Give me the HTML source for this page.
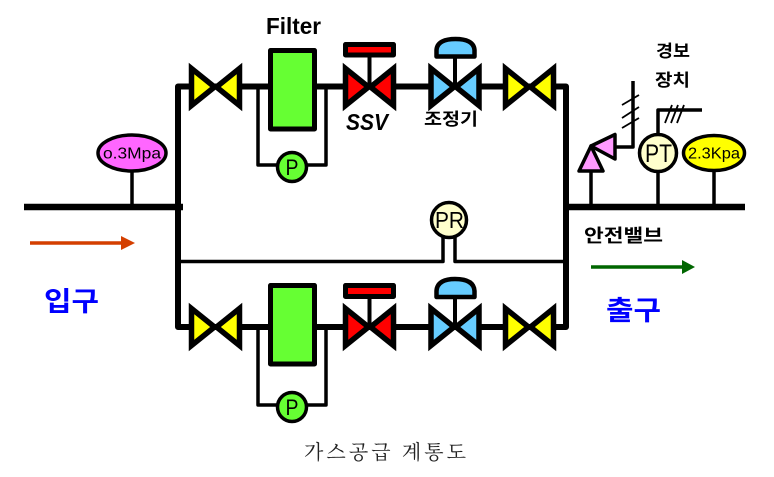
<!DOCTYPE html>
<html><head><meta charset="utf-8"><style>
html,body{margin:0;padding:0;background:#fff;width:774px;height:477px;overflow:hidden}
svg{display:block}
text{font-family:"Liberation Sans","Noto Sans CJK KR",sans-serif}
.k{font-family:"Noto Sans CJK KR","NanumGothic",sans-serif;font-weight:700}
</style></head><body>
<svg width="774" height="477" viewBox="0 0 774 477" xmlns="http://www.w3.org/2000/svg">
<defs>
<g id="v" stroke="#000" stroke-width="5.500" stroke-linejoin="miter">
<path d="M-24 -18.500 L-1 0 L-24 18.500Z M24 -18.500 L1 0 L24 18.500Z"/>
</g>
</defs>
<g fill="none" stroke="#000" stroke-linejoin="round">
<path d="M24 207H183M566 207H745" stroke-width="6.500"/>
<path d="M540 86.500H566V327H540M200 86.500H178V327H200" stroke-width="6"/>
<path d="M200 86.500H540M200 327H540" stroke-width="6"/>
<path d="M258 87V165H326V87M258 327V405H326V327" stroke-width="3.500"/>
<path d="M178 261.500H443V232M566 261.500H455V232" stroke-width="3.500"/>
<path d="M132 172V207M591 172V207M658 172V207M714 171V207" stroke-width="3.500"/>
<path d="M614 147H633V81M658 134V110H702" stroke-width="3.500"/>
<path d="M622 105L639 95M622 118L639 107M622 128L639 118M665 123L672 105M671 123L678 105M677 123L684 105" stroke-width="1.800"/>
<path d="M369.500 57V87M455 58V87M369.500 299V327M455 299V327" stroke-width="4"/>
</g>
<g>
<use href="#v" x="215.500" y="87" fill="#ffff00"/>
<use href="#v" x="369.500" y="87" fill="#ff0000"/>
<use href="#v" x="455" y="87" fill="#66ccff"/>
<use href="#v" x="529.500" y="87" fill="#ffff00"/>
<use href="#v" x="215.500" y="327" fill="#ffff00"/>
<use href="#v" x="369.500" y="327" fill="#ff0000"/>
<use href="#v" x="455" y="327" fill="#66ccff"/>
<use href="#v" x="529.500" y="327" fill="#ffff00"/>
</g>
<g stroke="#000" stroke-width="5" stroke-linejoin="round">
<rect x="270.500" y="50.500" width="44" height="78.500" fill="#66ff33"/>
<rect x="270.500" y="285.500" width="44" height="78.500" fill="#66ff33"/>
<rect x="345.500" y="44.500" width="48" height="10.500" fill="#ff0000"/>
<rect x="345.500" y="285.500" width="48" height="11" fill="#ff0000"/>
<path d="M436.500 56.500V50C437 42 445 39 455.500 39C466 39 474 42 474.500 50V56.500Z" fill="#66ccff" stroke-width="4.500"/>
<path d="M436.500 297V291C437 282 445 279 455 279C466 279 474 282 474.500 291V297Z" fill="#66ccff" stroke-width="4.500"/>
<circle cx="292" cy="167" r="14.500" fill="#66ff33" stroke-width="3.500"/>
<circle cx="292" cy="407" r="14.500" fill="#66ff33" stroke-width="3.500"/>
<ellipse cx="132" cy="153" rx="34" ry="18" fill="#ff66ff" stroke-width="3.500"/>
<circle cx="449" cy="220" r="17.500" fill="#ffffcc" stroke-width="3.500"/>
<circle cx="658" cy="153" r="18.500" fill="#ffffcc" stroke-width="3.500"/>
<ellipse cx="714" cy="153" rx="30.500" ry="17.500" fill="#ffff00" stroke-width="3.500"/>
<path d="M591 146L603 171H579Z" fill="#ff99ff" stroke-width="3.500"/>
<path d="M591 146L615 134.500V159Z" fill="#ff99ff" stroke-width="3.500"/>
</g>
<path d="M30 243H123" stroke="#d43f00" stroke-width="3.500"/>
<path d="M121 236L135 243L121 250Z" fill="#d43f00"/>
<path d="M591 267H684" stroke="#006600" stroke-width="3.500"/>
<path d="M682 260L695 267L682 274Z" fill="#006600"/>
<g text-anchor="start" fill="#000">
<text x="266" y="34" font-size="23" font-weight="700" textLength="55" lengthAdjust="spacingAndGlyphs">Filter</text>
<text x="346" y="130" font-size="23" font-weight="700" font-style="italic" textLength="42" lengthAdjust="spacingAndGlyphs">SSV</text>
<text class="k" x="424" y="125" font-size="17" textLength="54" lengthAdjust="spacingAndGlyphs">조정기</text>
<text class="k" x="656" y="57" font-size="17" textLength="34" lengthAdjust="spacingAndGlyphs">경보</text>
<text class="k" x="655" y="86" font-size="17" textLength="35" lengthAdjust="spacingAndGlyphs">장치</text>
<text class="k" x="584" y="242" font-size="18" textLength="79" lengthAdjust="spacingAndGlyphs">안전밸브</text>
<text class="k" x="44" y="311" font-size="27" fill="#0000ff" textLength="55" lengthAdjust="spacingAndGlyphs">입구</text>
<text class="k" x="606" y="320" font-size="27" fill="#0000ff" textLength="55" lengthAdjust="spacingAndGlyphs">출구</text>
<text x="103" y="158.500" font-size="16" textLength="58" lengthAdjust="spacingAndGlyphs">o.3Mpa</text>
<text x="688" y="158.500" font-size="16" textLength="52" lengthAdjust="spacingAndGlyphs">2.3Kpa</text>
<text x="285.500" y="175" font-size="22" textLength="13" lengthAdjust="spacingAndGlyphs">P</text>
<text x="285.500" y="415" font-size="22" textLength="13" lengthAdjust="spacingAndGlyphs">P</text>
<text x="435" y="228" font-size="23" textLength="29" lengthAdjust="spacingAndGlyphs">PR</text>
<text x="645" y="162" font-size="25" textLength="27" lengthAdjust="spacingAndGlyphs">PT</text>
<text x="304" y="459" font-size="20" style='font-family:"Noto Serif CJK SC","Noto Serif CJK KR","NanumGothic",serif' textLength="162" fill="#222">가스공급 계통도</text>
</g>
</svg>
</body></html>
